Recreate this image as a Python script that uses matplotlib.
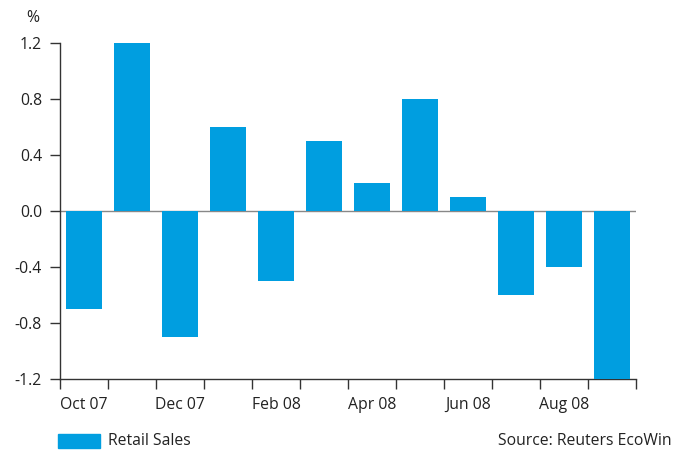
import matplotlib.pyplot as plt
import numpy as np

months = ["Oct 07", "Nov 07", "Dec 07", "Jan 08", "Feb 08", "Mar 08",
          "Apr 08", "May 08", "Jun 08", "Jul 08", "Aug 08", "Sep 08"]
retail_sales = [-0.7, 1.2, -0.9, 0.6, -0.5, 0.5, 0.2, 0.8, 0.1, -0.6, -0.4, -1.2]
y_ticks = [-1.2, -0.8, -0.4, 0.0, 0.4, 0.8, 1.2]

blue = "#009ee0"
axis_col = "#333333"
fs = 11.3

plt.rcParams["font.family"] = ["Open Sans", "DejaVu Sans"]

fig = plt.figure(figsize=(6.73, 4.5), dpi=100)
ax = fig.add_axes([60 / 673, 1 - 379 / 450, 576 / 673, 336 / 450])

x = np.arange(len(months))
ax.bar(x, retail_sales, width=0.75, color=blue, zorder=3)
ax.axhline(0, color="#888888", lw=1, zorder=2)

ax.set_xlim(-0.5, len(months) - 0.5)
ax.set_ylim(-1.2, 1.2)

# ticks on month boundaries, labels every second month
ax.set_xticks(np.arange(-0.5, len(months), 1), minor=True)
ax.set_xticks(x[::2])
ax.set_xticklabels(months[::2])
ax.tick_params(axis="x", which="major", length=0, pad=13, labelsize=fs, colors="#222222")
ax.tick_params(axis="x", which="minor", length=7, width=1, color=axis_col, direction="out")

ax.set_yticks(y_ticks)
ax.set_yticklabels([f"{v:.1f}" for v in y_ticks])
ax.tick_params(axis="y", length=7, width=1, color=axis_col, labelsize=fs,
               labelcolor="#222222", pad=6)

for s in ["top", "right"]:
    ax.spines[s].set_visible(False)
for s in ["left", "bottom"]:
    ax.spines[s].set_color(axis_col)
    ax.spines[s].set_linewidth(1)

fig.text(33 / 673, 1 - 18 / 450, "%", ha="center", va="center", fontsize=fs, color="#222222")

# legend and source
fig.patches.append(plt.Rectangle((58 / 673, 1 - 448 / 450), 42 / 673, 14 / 450,
                                 transform=fig.transFigure, color=blue))
fig.text(108 / 673, 1 - 441 / 450, "Retail Sales", ha="left", va="center",
         fontsize=fs, color="#222222")
fig.text(672 / 673, 1 - 441 / 450, "Source: Reuters EcoWin", ha="right", va="center",
         fontsize=fs, color="#222222")

fig.savefig("out.png", dpi=100)
